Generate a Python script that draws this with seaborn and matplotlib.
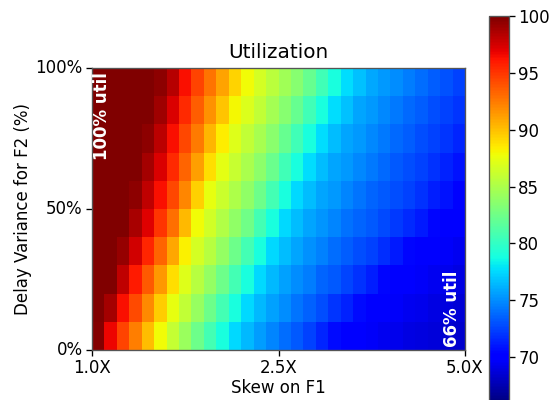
import matplotlib
matplotlib.use("Agg")
import matplotlib.pyplot as plt
import pandas as pd
import seaborn as sns

# utilization (%), one list per band of delay variance
# (top band = ~95% variance, bottom band = ~5%), left to right = skew 1.0X..5.0X
util_v95 = [100, 100, 100, 100, 100, 99.6, 98.3, 96.3, 94.5, 92.7, 91.0, 89.3, 87.8, 86.7, 85.6,
            84.5, 83.4, 82.1, 80.5, 78.9, 77.6, 76.7, 75.9, 75.4, 74.9, 74.4, 73.9, 73.4, 73.0, 72.5]
util_v85 = [100, 100, 100, 100, 100, 99.0, 97.3, 95.4, 93.5, 91.7, 89.8, 88.0, 86.9, 85.8, 84.6,
            83.5, 82.1, 80.5, 78.9, 77.6, 76.7, 75.8, 75.3, 74.8, 74.3, 73.8, 73.4, 72.9, 72.5, 72.0]
util_v75 = [100, 100, 100, 100, 99.6, 98.2, 96.4, 94.4, 92.5, 90.4, 88.4, 87.1, 85.9, 84.8, 83.6,
            82.2, 80.6, 78.9, 77.6, 76.6, 75.8, 75.3, 74.8, 74.3, 73.8, 73.4, 72.9, 72.4, 72.0, 71.5]
util_v65 = [100, 100, 100, 100, 98.9, 97.3, 95.4, 93.3, 91.2, 88.9, 87.3, 86.1, 84.9, 83.7, 82.3,
            80.6, 78.9, 77.6, 76.6, 75.8, 75.3, 74.8, 74.3, 73.8, 73.3, 72.9, 72.4, 71.9, 71.4, 70.9]
util_v55 = [100, 100, 100, 99.5, 98.1, 96.4, 94.3, 92.1, 89.5, 87.5, 86.3, 85.0, 83.8, 82.4, 80.7,
            78.9, 77.5, 76.5, 75.8, 75.3, 74.7, 74.2, 73.7, 73.3, 72.9, 72.4, 71.9, 71.3, 70.8, 70.3]
util_v45 = [100, 100, 100, 98.7, 97.1, 95.0, 92.9, 90.2, 87.8, 86.5, 85.2, 83.9, 82.5, 80.7, 78.9,
            77.5, 76.5, 75.7, 75.2, 74.7, 74.1, 73.6, 73.2, 72.7, 72.2, 71.6, 71.1, 70.5, 70.0, 69.8]
util_v35 = [100, 100, 99.3, 97.5, 95.5, 93.3, 90.9, 88.2, 86.7, 85.4, 84.0, 82.4, 80.7, 78.9, 77.5,
            76.5, 75.7, 75.1, 74.5, 73.9, 73.4, 72.9, 72.4, 71.8, 71.1, 70.5, 70.0, 69.8, 69.6, 69.4]
util_v25 = [100, 100, 98.1, 95.9, 93.7, 91.4, 88.9, 87.0, 85.5, 84.0, 82.4, 80.7, 78.9, 77.5, 76.4,
            75.6, 75.0, 74.4, 73.7, 73.2, 72.6, 71.9, 71.2, 70.5, 70.0, 69.8, 69.6, 69.4, 69.2, 69.0]
util_v15 = [100, 98.9, 96.3, 94.2, 91.9, 89.6, 87.4, 85.8, 84.1, 82.4, 80.7, 78.9, 77.5, 76.4, 75.6,
            74.9, 74.2, 73.5, 72.8, 72.1, 71.4, 70.6, 69.9, 69.8, 69.6, 69.4, 69.2, 69.0, 68.8, 68.6]
util_v05 = [99.8, 96.7, 94.5, 92.4, 90.1, 87.9, 86.0, 84.2, 82.4, 80.7, 78.9, 77.5, 76.4, 75.5, 74.7,
            73.9, 73.2, 72.4, 71.5, 70.6, 69.9, 69.8, 69.6, 69.4, 69.2, 69.0, 68.9, 68.7, 68.5, 68.3]

skew_labels = ["1.0X", "2.5X", "5.0X"]
variance_labels = ["100%", "50%", "0%"]
cbar_ticks = [70, 75, 80, 85, 90, 95, 100]

grid = pd.DataFrame([util_v95, util_v85, util_v75, util_v65, util_v55,
                     util_v45, util_v35, util_v25, util_v15, util_v05])
n_rows, n_cols = grid.shape

fig = plt.figure(figsize=(5.49, 4.0), dpi=100)
ax = fig.add_axes([92 / 549, 50 / 400, 373 / 549, 282 / 400])
cax = fig.add_axes([489 / 549, -2.5 / 400, 20 / 549, 386.5 / 400])

sns.heatmap(grid, cmap="jet", vmin=66, vmax=100, ax=ax, cbar_ax=cax)

ax.set_xticks([0, n_cols / 2, n_cols])
ax.set_xticklabels(skew_labels, rotation=0)
ax.set_yticks([0, n_rows / 2, n_rows])
ax.set_yticklabels(variance_labels, rotation=0)
ax.tick_params(labelsize=12, length=4.2, width=0.96, pad=2.5)
ax.set_xlabel("Skew on F1", fontsize=12, labelpad=1.5)
ax.set_ylabel("Delay Variance for F2 (%)", fontsize=12, labelpad=2.5)
ax.set_title("Utilization", fontsize=14.4, pad=7.2)
for spine in ax.spines.values():
    spine.set_visible(True)
    spine.set_color("#555555")
    spine.set_linewidth(0.96)

cbar = ax.collections[0].colorbar
cbar.set_ticks(cbar_ticks)
cbar.outline.set_linewidth(0.96)
cbar.outline.set_edgecolor("#555555")
cbar.ax.tick_params(labelsize=12, length=4.2, width=0.96, pad=2.5)

ax.text(0.027, 0.986, "100% util", transform=ax.transAxes, rotation=90,
        color="white", fontsize=12, fontweight="bold", ha="center", va="top")
ax.text(0.965, 0.011, "66% util", transform=ax.transAxes, rotation=90,
        color="white", fontsize=12, fontweight="bold", ha="center", va="bottom")

fig.savefig("out.png", dpi=100)
